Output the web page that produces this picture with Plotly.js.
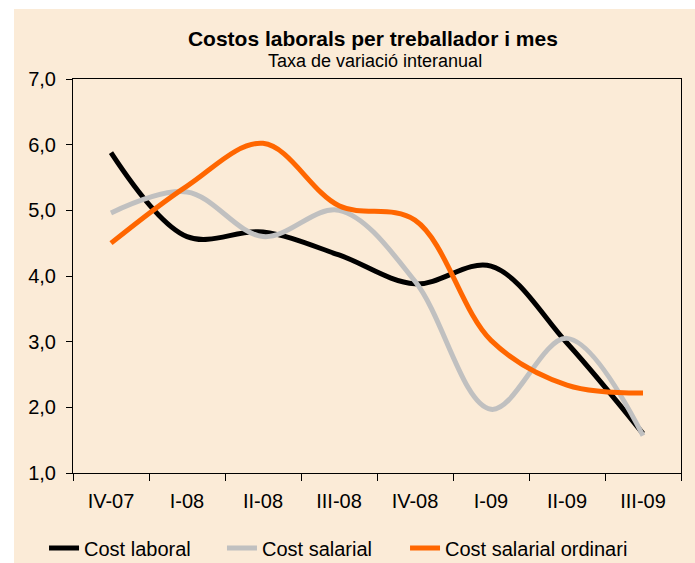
<!DOCTYPE html>
<html>
<head>
<meta charset="utf-8">
<script src="https://cdn.plot.ly/plotly-3.0.1.min.js"></script>
<style>
  html, body { margin: 0; padding: 0; background: #ffffff; }
  #chart { position: absolute; left: 14px; top: 9px; width: 681px; height: 554px; }
</style>
</head>
<body>
<div id="chart"></div>
<script>
// Categories (quarters)
const categories = ["IV-07", "I-08", "II-08", "III-08", "IV-08", "I-09", "II-09", "III-09"];

// Series values (year-on-year rate of change, %)
const costLaboral = [5.88, 4.60, 4.67, 4.32, 3.88, 4.15, 2.98, 1.60];
const costSalarial = [4.96, 5.28, 4.60, 5.00, 3.92, 1.97, 3.05, 1.57];
const costSalarialOrdinari = [4.50, 5.37, 6.02, 5.07, 4.85, 3.02, 2.34, 2.22];

// Series names
const seriesNames = ["Cost laboral", "Cost salarial", "Cost salarial ordinari"];

// Y tick values
const yTicks = [1, 2, 3, 4, 5, 6, 7];

const FONT = "Liberation Sans, Arial, sans-serif";
const BG = "#FBEBD7";

function mk(name, y, color, legendId) {
  return {
    x: categories, y: y, name: name, type: "scatter", mode: "lines",
    line: { color: color, width: 5, shape: "spline", smoothing: 1 },
    legend: legendId,
    hoverinfo: "skip"
  };
}

const data = [
  mk(seriesNames[0], costLaboral, "#000000", "legend"),
  mk(seriesNames[1], costSalarial, "#C0C0C0", "legend2"),
  mk(seriesNames[2], costSalarialOrdinari, "#FF6600", "legend3")
];

function leg(x) {
  return {
    orientation: "h",
    xref: "container", x: x, xanchor: "left",
    yref: "container", y: 0.027, yanchor: "middle",
    bgcolor: "rgba(0,0,0,0)",
    font: { family: FONT, size: 20, color: "#000000" }
  };
}

const layout = {
  width: 681, height: 554,
  margin: { l: 59, r: 14, t: 70, b: 90, pad: 0, autoexpand: false },
  paper_bgcolor: BG, plot_bgcolor: BG,
  separators: ", ",
  font: { family: FONT, size: 20, color: "#000000" },
  title: {
    text: "<b>Costos laborals per treballador i mes</b>",
    font: { family: FONT, size: 21, color: "#000000" },
    xref: "container", x: 0.527, xanchor: "center",
    yref: "container", y: 0.9458, yanchor: "middle"
  },
  annotations: [{
    text: "Taxa de variació interanual",
    xref: "paper", yref: "paper", x: 0.497, y: 1.0457,
    xanchor: "center", yanchor: "middle", showarrow: false,
    font: { family: FONT, size: 18, color: "#000000" }
  }],
  xaxis: {
    type: "category",
    categoryarray: categories,
    range: [-0.5, 7.5],
    automargin: false,
    showgrid: false, zeroline: false,
    showline: true, linecolor: "#000000", linewidth: 1, mirror: true,
    ticks: "outside", tickson: "boundaries", ticklen: 7, tickcolor: "#000000", tickwidth: 1,
    ticklabelstandoff: 10,
    tickfont: { family: FONT, size: 20, color: "#000000" },
    fixedrange: true
  },
  yaxis: {
    range: [1, 7],
    automargin: false,
    tickvals: yTicks,
    tickformat: ".1f",
    showgrid: false, zeroline: false,
    showline: true, linecolor: "#000000", linewidth: 1, mirror: true,
    ticks: "outside", ticklen: 6, tickcolor: "#000000", tickwidth: 1,
    ticklabelstandoff: 6,
    tickfont: { family: FONT, size: 20, color: "#000000" },
    fixedrange: true
  },
  showlegend: true,
  legend: leg(0.0441),
  legend2: leg(0.3054),
  legend3: leg(0.5742)
};

Plotly.newPlot("chart", data, layout, { displayModeBar: false, staticPlot: true });
</script>
</body>
</html>
